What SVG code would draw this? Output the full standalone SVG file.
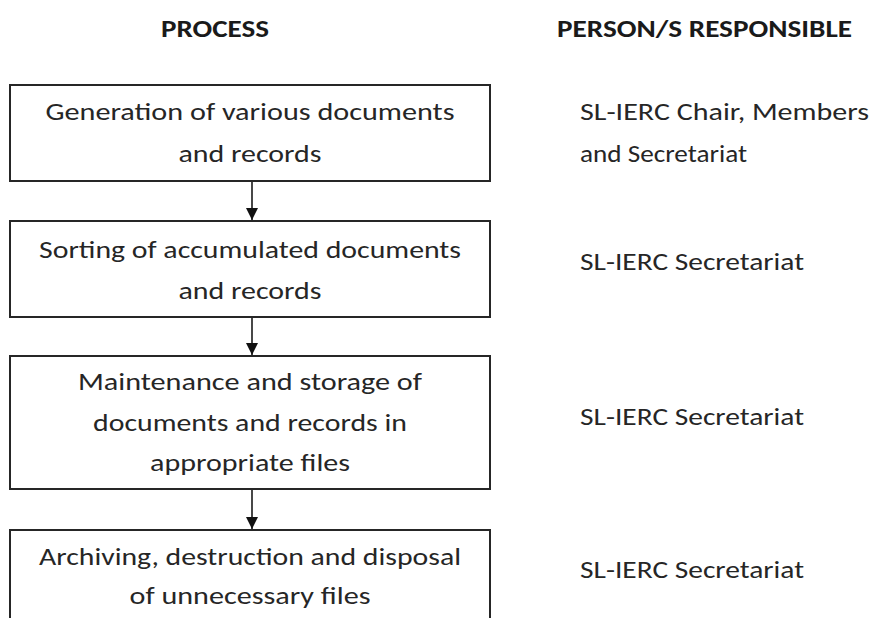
<svg xmlns="http://www.w3.org/2000/svg" width="872" height="618" viewBox="0 0 872 618">
  <style>
    .hdr { font-family: Carlito, Lato, "Liberation Sans", sans-serif; font-size: 25px; font-weight: bold; fill: #1a1a1a; }
    .lbl { font-family: Carlito, Lato, "Liberation Sans", sans-serif; font-size: 25px; fill: #262626; }
    .box { fill: #ffffff; stroke: #262626; stroke-width: 2; }
    .link { stroke: #1a1a1a; stroke-width: 1.6; fill: none; marker-end: url(#head); }
  </style>
  <defs>
    <marker id="head" viewBox="0 0 12 12" refX="12" refY="6" markerWidth="12" markerHeight="12" markerUnits="userSpaceOnUse" orient="auto">
      <path d="M0,0 L12,6 L0,12 Z" fill="#111"/>
    </marker>
  </defs>
  <rect width="872" height="618" fill="#ffffff"/>

  <!-- column headings -->
  <g id="headings">
    <text class="hdr" x="215" y="37" text-anchor="middle" textLength="108" lengthAdjust="spacingAndGlyphs">PROCESS</text>
    <text class="hdr" x="557" y="37" textLength="295" lengthAdjust="spacingAndGlyphs">PERSON/S RESPONSIBLE</text>
  </g>

  <!-- connectors -->
  <g id="connectors">
    <line class="link" x1="252" y1="182" x2="252" y2="220"/>
    <line class="link" x1="252" y1="318" x2="252" y2="355"/>
    <line class="link" x1="252" y1="490" x2="252" y2="529"/>
  </g>

  <!-- process steps -->
  <g id="step1">
    <rect class="box" x="10" y="85" width="480" height="96"/>
    <text class="lbl" x="250" y="120" text-anchor="middle" textLength="409" lengthAdjust="spacingAndGlyphs">Generation of various documents</text>
    <text class="lbl" x="250" y="162" text-anchor="middle" textLength="143" lengthAdjust="spacingAndGlyphs">and records</text>
  </g>
  <g id="step2">
    <rect class="box" x="10" y="221" width="480" height="96"/>
    <text class="lbl" x="250" y="258" text-anchor="middle" textLength="422" lengthAdjust="spacingAndGlyphs">Sorting of accumulated documents</text>
    <text class="lbl" x="250" y="299" text-anchor="middle" textLength="143" lengthAdjust="spacingAndGlyphs">and records</text>
  </g>
  <g id="step3">
    <rect class="box" x="10" y="356" width="480" height="133"/>
    <text class="lbl" x="250" y="390" text-anchor="middle" textLength="344" lengthAdjust="spacingAndGlyphs">Maintenance and storage of</text>
    <text class="lbl" x="250" y="431" text-anchor="middle" textLength="314" lengthAdjust="spacingAndGlyphs">documents and records in</text>
    <text class="lbl" x="250" y="471" text-anchor="middle" textLength="200" lengthAdjust="spacingAndGlyphs">appropriate files</text>
  </g>
  <g id="step4">
    <rect class="box" x="10" y="530" width="480" height="110"/>
    <text class="lbl" x="250" y="565" text-anchor="middle" textLength="422" lengthAdjust="spacingAndGlyphs">Archiving, destruction and disposal</text>
    <text class="lbl" x="250" y="604" text-anchor="middle" textLength="241" lengthAdjust="spacingAndGlyphs">of unnecessary files</text>
  </g>

  <!-- responsible persons -->
  <g id="resp1">
    <text class="lbl" x="580" y="120" textLength="289" lengthAdjust="spacingAndGlyphs">SL-IERC Chair, Members</text>
    <text class="lbl" x="580" y="162" textLength="167" lengthAdjust="spacingAndGlyphs">and Secretariat</text>
  </g>
  <g id="resp2">
    <text class="lbl" x="580" y="270" textLength="224" lengthAdjust="spacingAndGlyphs">SL-IERC Secretariat</text>
  </g>
  <g id="resp3">
    <text class="lbl" x="580" y="425" textLength="224" lengthAdjust="spacingAndGlyphs">SL-IERC Secretariat</text>
  </g>
  <g id="resp4">
    <text class="lbl" x="580" y="578" textLength="224" lengthAdjust="spacingAndGlyphs">SL-IERC Secretariat</text>
  </g>
</svg>
